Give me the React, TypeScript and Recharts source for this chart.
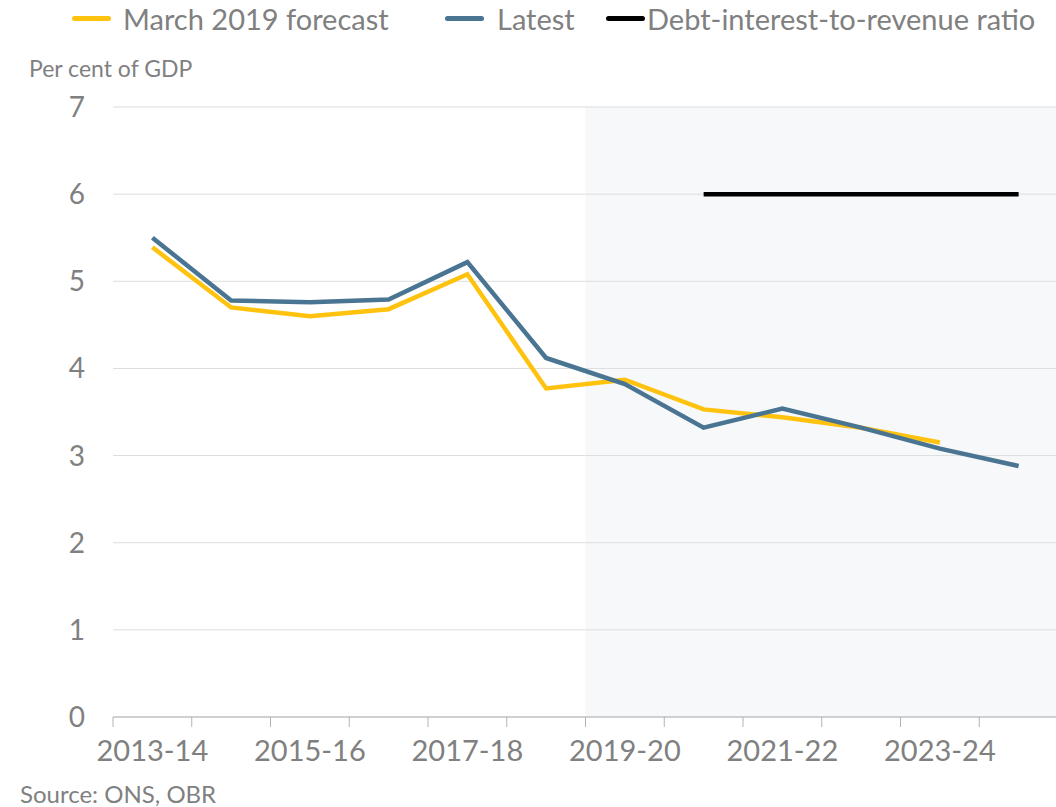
import React from 'react';
import { LineChart, Line, XAxis, YAxis, CartesianGrid, ReferenceArea } from 'recharts';

// fiscal years on the x axis
const years = [
  '2013-14', '2014-15', '2015-16', '2016-17', '2017-18', '2018-19',
  '2019-20', '2020-21', '2021-22', '2022-23', '2023-24', '2024-25',
];
// per cent of GDP
const march2019 = [5.39, 4.70, 4.60, 4.68, 5.08, 3.77, 3.87, 3.53, 3.44, 3.32, 3.15, null];
const latest = [5.50, 4.78, 4.76, 4.79, 5.22, 4.12, 3.82, 3.32, 3.54, 3.32, 3.08, 2.88];
const ratioTarget = [null, null, null, null, null, null, null, 6, 6, 6, 6, 6];

const yTicks = [0, 1, 2, 3, 4, 5, 6, 7];
const labelTicks = [0, 2, 4, 6, 8, 10];
const forecastFrom = 5.5;

const series = [
  { key: 'march2019', name: 'March 2019 forecast', color: '#ffc20e', left: 72, gap: 12 },
  { key: 'latest', name: 'Latest', color: '#4a7592', left: 445, gap: 13 },
  { key: 'ratio', name: 'Debt-interest-to-revenue ratio', color: '#000000', left: 606, gap: 2 },
];

const data = years.map((y, i) => ({
  i,
  year: y,
  march2019: march2019[i],
  latest: latest[i],
  ratio: ratioTarget[i],
}));

const boundaryTicks = years.map((_, i) => i - 0.5);
const xTicks = [...boundaryTicks, ...labelTicks].sort((a, b) => a - b);

const FONT = 'Lato, "Open Sans", sans-serif';
const TEXT = '#808080';

const XTick = (props: any) => {
  const { x, y, payload } = props;
  const v = payload.value;
  if (Number.isInteger(v)) {
    return (
      <text x={x} y={y + 44} textAnchor="middle" fill={TEXT} fontSize={29} fontFamily={FONT}>
        {years[v]}
      </text>
    );
  }
  return <line x1={x} x2={x} y1={y} y2={y + 10} stroke="#b3b3b3" strokeWidth={1} />;
};

export default function App() {
  return (
    <div style={{ position: 'absolute', left: 0, top: 0, width: 1056, height: 807, background: '#fff', fontFamily: FONT, overflow: 'hidden' }}>
      {/* legend */}
      {series.map((s) => (
        <div key={s.key} style={{ position: 'absolute', top: 0, left: s.left, height: 36, display: 'flex', alignItems: 'center' }}>
          <div style={{ width: 39, height: 5, borderRadius: 2.5, background: s.color, marginRight: s.gap }} />
          <span style={{ fontSize: 29, color: TEXT, whiteSpace: 'nowrap' }}>{s.name}</span>
        </div>
      ))}
      <div style={{ position: 'absolute', top: 54, left: 29, fontSize: 23, color: TEXT }}>Per cent of GDP</div>

      <LineChart width={1058} height={807} data={data} margin={{ top: 107, right: 0, bottom: 30, left: 0 }}>
        <CartesianGrid vertical={false} stroke="#dcdcdc" strokeWidth={1} />
        <ReferenceArea x1={forecastFrom} x2={years.length - 0.5} y1={0} y2={7} fill="#dde2ec" fillOpacity={0.25} stroke="none" />
        <XAxis
          dataKey="i"
          type="number"
          domain={[-0.5, years.length - 0.5]}
          ticks={xTicks}
          interval={0}
          tick={<XTick />}
          tickLine={false}
          tickSize={0}
          tickMargin={0}
          axisLine={{ stroke: '#b3b3b3' }}
          height={60}
        />
        <YAxis
          type="number"
          domain={[0, 7]}
          ticks={yTicks}
          interval={0}
          width={113}
          axisLine={false}
          tickLine={false}
          tickSize={0}
          tickMargin={28}
          tick={{ fill: TEXT, fontSize: 28, fontFamily: FONT }}
        />
        {series.map((s) => (
          <Line
            key={s.key}
            dataKey={s.key}
            name={s.name}
            stroke={s.color}
            strokeWidth={4.5}
            dot={false}
            activeDot={false}
            type="linear"
            isAnimationActive={false}
          />
        ))}
      </LineChart>

      <div style={{ position: 'absolute', top: 782, left: 20, fontSize: 24, lineHeight: '24px', color: TEXT }}>Source: ONS, OBR</div>
    </div>
  );
}
